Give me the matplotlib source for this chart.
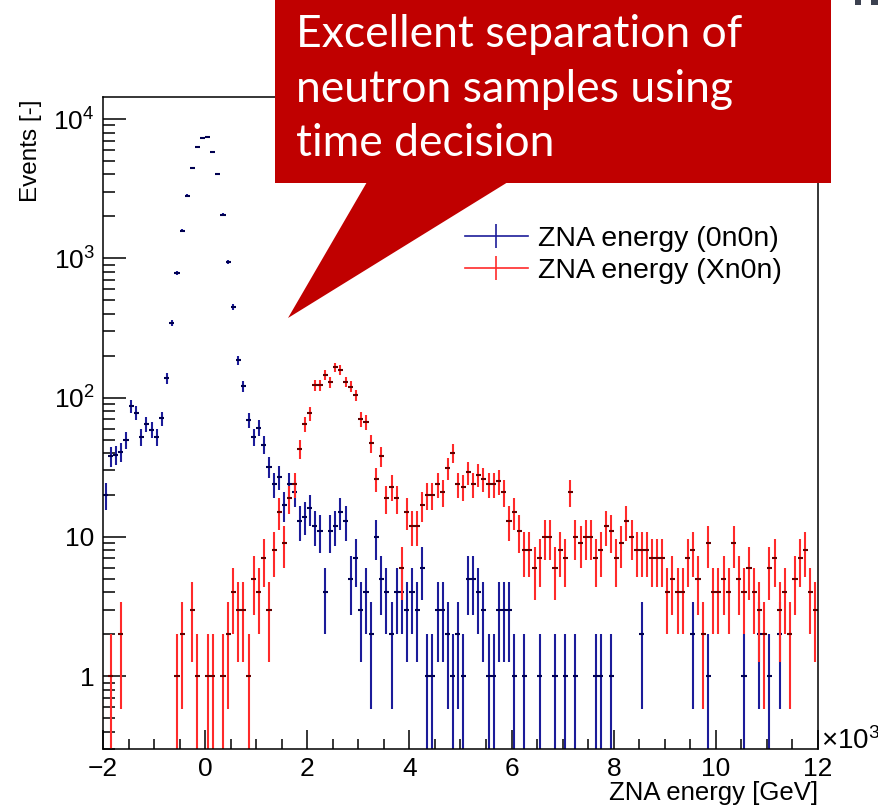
import numpy as np
import matplotlib
matplotlib.use("Agg")
import matplotlib.pyplot as plt
from matplotlib.lines import Line2D
from matplotlib.patches import Polygon, Rectangle
from matplotlib.ticker import FixedLocator, FixedFormatter, MultipleLocator, LogLocator, NullFormatter

plt.rcParams['font.family'] = ['Liberation Sans', 'DejaVu Sans']
plt.rcParams['mathtext.default'] = 'regular'

# histogram: 140 bins of 0.1 (x10^3 GeV) from -2 to 12
n_bins = 140
bin_width = 0.1
x_low = -2.0

counts_0n0n = [
    20, 38, 39, 41, 50, 87, 78, 52, 65, 59,
    52, 71, 138, 345, 782, 1581, 2820, 4487, 6283, 7295,
    7487, 5843, 4019, 2061, 937, 448, 186, 121, 69, 52,
    61, 46, 32, 24, 27, 17, 24, 21, 13, 14,
    16, 12, 11, 4, 11, 12, 15, 13, 5, 7,
    3, 4, 2, 10, 5, 4, 2, 4, 4, 3,
    4, 3, 6, 1, 1, 3, 3, 2, 1, 2,
    1, 5, 5, 4, 3, 1, 1, 3, 3, 3,
    1, 0, 1, 0, 0, 1, 0, 0, 1, 0,
    1, 0, 1, 0, 0, 0, 1, 1, 0, 1,
    0, 0, 0, 0, 0, 2, 0, 0, 0, 0,
    0, 0, 0, 0, 0, 2, 0, 0, 1, 0,
    0, 0, 0, 0, 0, 1, 0, 0, 2, 0,
    1, 0, 2, 0, 0, 0, 0, 0, 0, 0,
]

counts_Xn0n = [
    0, 1, 0, 2, 0, 0, 0, 0, 0, 0,
    0, 0, 0, 0, 1, 2, 0, 3, 1, 0,
    1, 1, 0, 1, 2, 4, 3, 3, 1, 5,
    4, 7, 3, 8, 15, 9, 19, 24, 43, 65,
    77, 123, 123, 145, 129, 165, 158, 130, 120, 104,
    70, 67, 47, 26, 38, 19, 23, 19, 6, 15,
    12, 12, 17, 20, 20, 24, 21, 31, 40, 24,
    23, 29, 24, 28, 26, 24, 24, 25, 21, 13,
    15, 11, 8, 8, 6, 7, 10, 10, 6, 8,
    7, 21, 10, 9, 10, 10, 7, 8, 12, 11,
    7, 9, 13, 10, 8, 8, 8, 7, 7, 7,
    4, 5, 4, 4, 7, 8, 5, 2, 9, 4,
    4, 5, 4, 9, 5, 4, 6, 4, 3, 2,
    6, 7, 3, 4, 2, 5, 7, 8, 4, 3,
]

labels = ["ZNA energy (0n0n)", "ZNA energy (Xn0n)"]
colors = ["#1c1c9a", "#ff2a2a"]
dark = ["#000050", "#600000"]

W, H = 879, 806


def fx(px):
    return px / W


def fy(py):
    return 1 - py / H


def draw_hist(ax, counts, color, dk):
    c = np.array(counts, dtype=float)
    centers = x_low + bin_width * (np.arange(n_bins) + 0.5)
    m = c > 0
    x = centers[m]
    y = c[m]
    err = np.sqrt(y)
    lo = np.minimum(err, y - 1e-3)
    ax.errorbar(x, y, yerr=[lo, err], fmt='none', ecolor=color,
                elinewidth=1.5, capsize=0)
    ax.errorbar(x, y, xerr=bin_width / 2, fmt='none', ecolor=dk,
                elinewidth=1.5, capsize=0)


fig = plt.figure(figsize=(8.79, 8.06), dpi=100)
ax = fig.add_axes([fx(103), fy(749), fx(818) - fx(103), fy(97) - fy(749)])

draw_hist(ax, counts_0n0n, colors[0], dark[0])
draw_hist(ax, counts_Xn0n, colors[1], dark[1])

ax.set_yscale('log')
ax.set_xlim(-2, 12)
ax.set_ylim(0.3, 1.44e4)

ax.xaxis.set_major_locator(MultipleLocator(2))
ax.xaxis.set_minor_locator(MultipleLocator(0.5))
ax.yaxis.set_major_locator(FixedLocator([1, 10, 100, 1000, 10000]))
ax.yaxis.set_major_formatter(FixedFormatter(['1', '10', '$10^{2}$', '$10^{3}$', '$10^{4}$']))
ax.yaxis.set_minor_locator(LogLocator(base=10, subs=np.arange(2, 10)))
ax.yaxis.set_minor_formatter(NullFormatter())

ax.tick_params(axis='both', which='both', direction='in', top=False, right=False,
               labelsize=19, width=1.1)
ax.tick_params(axis='y', which='major', length=16.5, pad=6)
ax.tick_params(axis='y', which='minor', length=8.5)
ax.tick_params(axis='x', which='major', length=13.5, pad=6)
ax.tick_params(axis='x', which='minor', length=7)
for s in ax.spines.values():
    s.set_linewidth(1.1)

fig.text(fx(821), fy(741), r'$\times10^{3}$', fontsize=20, ha='left', va='center')
fig.text(fx(818), fy(793), 'ZNA energy [GeV]', fontsize=18.5, ha='right', va='center')
fig.text(fx(31), fy(99), 'Events [-]', fontsize=17.5, rotation=90, ha='center', va='top')

handles = [Line2D([], [], color=colors[0], lw=1.2, marker='|', markersize=17, markeredgewidth=1.2),
           Line2D([], [], color=colors[1], lw=1.2, marker='|', markersize=17, markeredgewidth=1.2)]
fig.legend(handles, labels, loc='upper left', bbox_to_anchor=(fx(465), fy(226)),
           frameon=False, fontsize=20.5, handlelength=2.2, handletextpad=0.35,
           labelspacing=0.22, borderpad=0, borderaxespad=0)

# callout box
box = Rectangle((fx(275), fy(183)), fx(831) - fx(275), fy(0) - fy(183),
                transform=fig.transFigure, facecolor='#c00000', edgecolor='none', zorder=10)
tip = Polygon([(fx(367), fy(182)), (fx(508), fy(182)), (fx(288), fy(318))], closed=True,
              transform=fig.transFigure, facecolor='#c00000', edgecolor='none', zorder=10)
fig.patches.extend([box, tip])
fig.text(fx(296), fy(89), 'Excellent separation of\nneutron samples using\ntime decision',
         color='white', fontsize=32, family='Lato', ha='left', va='center',
         linespacing=1.42, zorder=11)

# fragment of slide title at top right
fig.patches.append(Rectangle((fx(855), fy(5)), fx(6), fy(0) - fy(5), transform=fig.transFigure,
                             facecolor='#3c4150', edgecolor='none'))
fig.patches.append(Rectangle((fx(871), fy(5)), fx(8), fy(0) - fy(5), transform=fig.transFigure,
                             facecolor='#3c4150', edgecolor='none'))

fig.savefig('out.png', dpi=100)
